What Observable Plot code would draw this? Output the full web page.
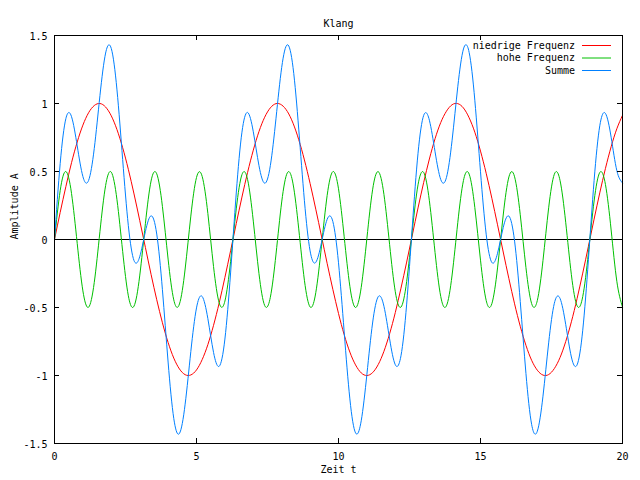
<!DOCTYPE html>
<html><head><meta charset="utf-8">
<script src="https://cdn.jsdelivr.net/npm/d3@7"></script>
<script src="https://cdn.jsdelivr.net/npm/@observablehq/plot@0.6"></script>
<style>html,body{margin:0;padding:0;background:#fff;}</style>
</head><body><div id="chart"></div>
<script>
const t = [0,0.2,0.4,0.6,0.8,1,1.2,1.4,1.6,1.8,2,2.2,2.4,2.6,2.8,3,3.2,3.4,3.6,3.8,4,4.2,4.4,4.6,4.8,5,5.2,5.4,5.6,5.8,6,6.2,6.4,6.6,6.8,7,7.2,7.4,7.6,7.8,8,8.2,8.4,8.6,8.8,9,9.2,9.4,9.6,9.8,10,10.2,10.4,10.6,10.8,11,11.2,11.4,11.6,11.8,12,12.2,12.4,12.6,12.8,13,13.2,13.4,13.6,13.8,14,14.2,14.4,14.6,14.8,15,15.2,15.4,15.6,15.8,16,16.2,16.4,16.6,16.8,17,17.2,17.4,17.6,17.8,18,18.2,18.4,18.6,18.8,19,19.2,19.4,19.6,19.8,20];
const low = [0,0.199,0.389,0.565,0.717,0.841,0.932,0.985,1.000,0.974,
0.909,0.808,0.675,0.516,0.335,0.141,-0.058,-0.256,-0.443,-0.612,
-0.757,-0.872,-0.952,-0.994,-0.996,-0.959,-0.883,-0.773,-0.631,-0.465,
-0.279,-0.083,0.117,0.312,0.494,0.657,0.794,0.899,0.968,0.999,
0.989,0.941,0.855,0.734,0.585,0.412,0.223,0.025,-0.175,-0.366,
-0.544,-0.700,-0.828,-0.922,-0.981,-1.000,-0.979,-0.919,-0.822,-0.693,
-0.537,-0.358,-0.166,0.033,0.232,0.420,0.592,0.741,0.860,0.943,
0.991,0.999,0.967,0.895,0.789,0.650,0.487,0.303,0.108,-0.092,
-0.288,-0.473,-0.638,-0.778,-0.888,-0.961,-0.997,-0.993,-0.949,-0.868,
-0.751,-0.605,-0.435,-0.247,-0.050,0.150,0.343,0.523,0.682,0.814,
0.913];
const high = [0,0.359,0.500,0.338,-0.029,-0.378,-0.498,-0.316,0.058,0.397,
0.495,0.292,-0.087,-0.414,-0.490,-0.268,0.116,0.430,0.483,0.243,
-0.144,-0.444,-0.474,-0.217,0.172,0.456,0.464,0.191,-0.199,-0.467,
-0.453,-0.163,0.225,0.477,0.440,0.135,-0.251,-0.485,-0.425,-0.107,
0.276,0.491,0.409,0.078,-0.300,-0.496,-0.391,-0.049,0.323,0.499,
0.373,0.020,-0.344,-0.500,-0.352,0.009,0.365,0.499,0.331,-0.038,
-0.384,-0.497,-0.309,0.067,0.402,0.493,0.285,-0.096,-0.419,-0.488,
-0.261,0.124,0.434,0.481,0.235,-0.152,-0.448,-0.472,-0.209,0.180,
0.460,0.461,0.182,-0.207,-0.471,-0.449,-0.155,0.233,0.480,0.435,
0.127,-0.259,-0.487,-0.420,-0.098,0.283,0.493,0.404,0.070,-0.307,
-0.497];
const sum = [0,0.558,0.889,0.903,0.688,0.463,0.434,0.669,1.058,1.371,
1.404,1.100,0.588,0.102,-0.155,-0.127,0.058,0.174,0.040,-0.369,
-0.901,-1.316,-1.426,-1.211,-0.824,-0.503,-0.419,-0.582,-0.830,-0.932,
-0.732,-0.246,0.342,0.789,0.934,0.792,0.543,0.414,0.543,0.892,
1.265,1.432,1.264,0.812,0.285,-0.084,-0.168,-0.024,0.148,0.133,
-0.171,-0.680,-1.172,-1.422,-1.333,-0.991,-0.614,-0.420,-0.491,-0.731,
-0.921,-0.855,-0.475,0.100,0.634,0.913,0.877,0.645,0.441,0.455,
0.730,1.123,1.401,1.376,1.024,0.498,0.039,-0.169,-0.101,0.088,
0.172,-0.012,-0.456,-0.985,-1.359,-1.410,-1.152,-0.760,-0.469,-0.433,
-0.624,-0.864,-0.922,-0.667,-0.148,0.433,0.836,0.927,0.752,0.507,
0.416];
const seriesNames = ["niedrige Frequenz", "hohe Frequenz", "Summe"];
const seriesColors = ["#ff0000", "#00c000", "#0080ff"];
const xTicks = [0, 5, 10, 15, 20];
const xTickLabels = ["0", "5", "10", "15", "20"];
const yTicks = [-1.5, -1, -0.5, 0, 0.5, 1, 1.5];
const yTickLabels = ["-1.5", "-1", "-0.5", "0", "0.5", "1", "1.5"];
const titleText = "Klang";
const xLabel = "Zeit t";
const yLabel = "Amplitude A";

const seriesValues = [low, high, sum];
const rows = [];
seriesValues.forEach((vals, s) => vals.forEach((v, i) => rows.push({t: t[i], v, series: seriesNames[s]})));

const W = 640, H = 480, mL = 54, mR = 18, mT = 35, mB = 37;
const frameW = W - mL - mR, frameH = H - mT - mB, tick = 5;

const chart = Plot.plot({
  width: W, height: H,
  marginLeft: mL, marginRight: mR, marginTop: mT, marginBottom: mB,
  style: {fontFamily: "'DejaVu Sans Mono', monospace", fontSize: "10px", background: "#fff", color: "#000"},
  x: {domain: [0, 20]},
  y: {domain: [-1.5, 1.5]},
  color: {domain: seriesNames, range: seriesColors},
  marks: [
    Plot.ruleY([0], {stroke: "#000", strokeWidth: 1}),
    Plot.line(rows, {x: "t", y: "v", z: "series", stroke: "series", strokeWidth: 1, curve: "natural"}),
    Plot.frame({stroke: "#000", strokeWidth: 1}),
    Plot.tickX(xTicks, {x: d => d, insetTop: frameH - tick, stroke: "#000"}),
    Plot.tickX(xTicks, {x: d => d, insetBottom: frameH - tick, stroke: "#000"}),
    Plot.tickY(yTicks, {y: d => d, insetRight: frameW - tick, stroke: "#000"}),
    Plot.tickY(yTicks, {y: d => d, insetLeft: frameW - tick, stroke: "#000"}),
    Plot.axisX(xTicks, {tickSize: 0, tickPadding: 9, label: null, tickFormat: d => xTickLabels[xTicks.indexOf(d)]}),
    Plot.axisY(yTicks, {tickSize: 0, tickPadding: 7, dy: 1, label: null, tickFormat: d => yTickLabels[yTicks.indexOf(d)]}),
    Plot.text([titleText], {text: d => d, frameAnchor: "top", dy: -16}),
    Plot.text([xLabel], {text: d => d, frameAnchor: "bottom", dy: 29.5}),
    Plot.text([yLabel], {text: d => d, frameAnchor: "left", dx: -40, rotate: -90})
  ]
});
document.getElementById("chart").appendChild(chart);

// legend (top-right, inside the frame)
const svg = d3.select(chart);
const lg = svg.append("g").attr("font-family", "'DejaVu Sans Mono', monospace").attr("font-size", 10);
seriesNames.forEach((name, i) => {
  const yy = 45 + i * 12.5;
  lg.append("text").attr("x", 575).attr("y", yy + 3.7).attr("text-anchor", "end").attr("fill", "#000").text(name);
  lg.append("line").attr("x1", 582).attr("x2", 611).attr("y1", yy + 0.5).attr("y2", yy + 0.5)
    .attr("stroke", seriesColors[i]).attr("stroke-width", 1);
});
</script>
</body></html>
